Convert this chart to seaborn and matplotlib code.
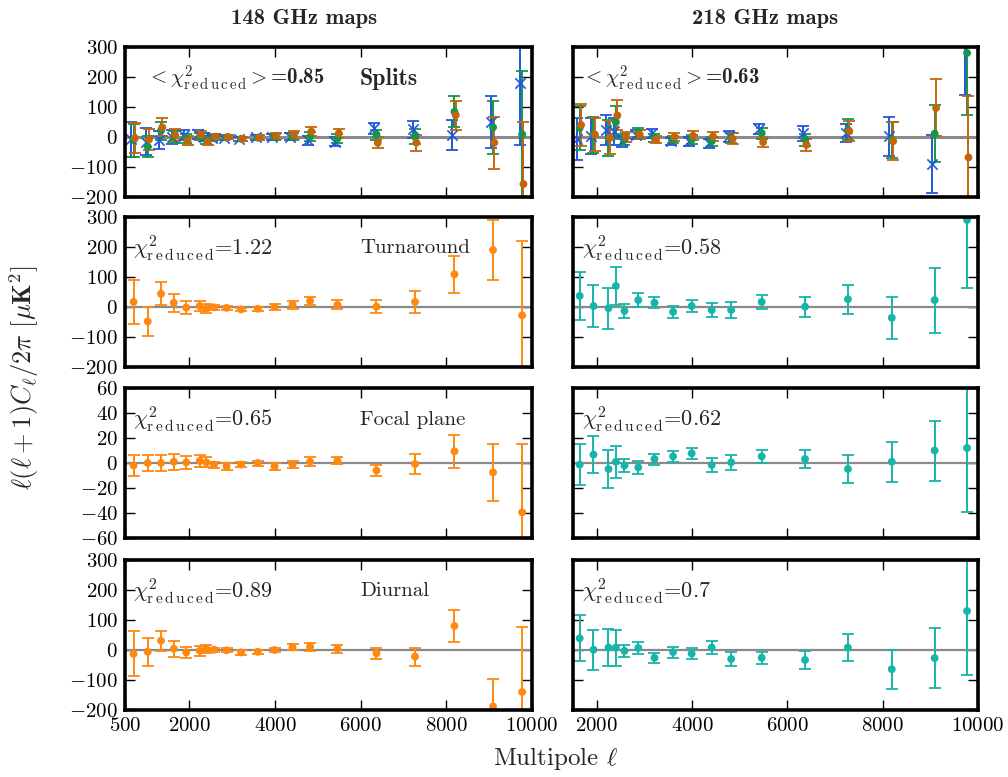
import numpy as np
import matplotlib
matplotlib.use("Agg")
import matplotlib.pyplot as plt
import seaborn as sns

# ---------------- data ----------------
ell_148 = [700, 1030, 1340, 1640, 1930, 2245, 2400, 2580, 2870, 3210,
           3600, 3990, 4410, 4820, 5460, 6370, 7270, 8190, 9090, 9770]
ell_218 = ell_148[3:]

test_names = ["Splits", "Turnaround", "Focal plane", "Diurnal"]
chi2_148 = ["0.85", "1.22", "0.65", "0.89"]
chi2_218 = ["0.63", "0.58", "0.62", "0.7"]

# Splits, 148 GHz (three split pairs)
s148_blue = [-8, -15, -10, 0, 7, 9, 0, -4, -2, -6, -1, -1, 1, -10, -15, 29, 26, 7, 51, 179]
s148_blue_err = [58, 45, 30, 22, 18, 15, 12, 8, 7, 7, 8, 10, 12, 15, 15, 18, 28, 50, 87, 205]
s148_green = [-10, -32, 21, 1, -5, 1, -10, -1, -1, -6, -2, 1, 1, 1, -5, 7, 1, 84, 32, 9]
s148_green_err = [55, 35, 30, 20, 15, 12, 12, 8, 7, 7, 8, 10, 12, 15, 15, 18, 25, 52, 87, 210]
s148_brown = [-4, -8, 32, 7, -12, 7, -15, 1, -1, -6, -2, 4, 7, 18, 12, -19, -19, 73, -19, -157]
s148_brown_err = [50, 35, 30, 20, 15, 12, 12, 8, 7, 7, 8, 10, 12, 16, 15, 18, 27, 48, 87, 208]

# Splits, 218 GHz
s218_blue = [-5, 2, 24, 20, -14, 8, 13, -14, -14, -20, 2, 27, 13, 13, 2, -89, 340]
s218_blue_err = [70, 60, 50, 45, 18, 16, 15, 12, 15, 15, 18, 18, 25, 30, 65, 97, 200]
s218_green = [30, 8, -3, 50, -9, 16, -3, -9, -9, -14, -3, 13, -9, 24, -9, 11, 280]
s218_green_err = [72, 60, 60, 55, 18, 15, 12, 12, 15, 15, 17, 18, 20, 35, 60, 95, 206]
s218_brown = [40, 8, -3, 72, 0, 8, -9, 0, 4, 2, -6, -17, -26, 19, -14, 97, -68]
s218_brown_err = [70, 55, 55, 50, 18, 15, 12, 13, 15, 15, 18, 17, 20, 33, 63, 95, 204]

# Turnaround
turn_148 = [17, -48, 44, 14, -2, 3, -6, -1, -3, -8, -6, 0, 8, 20, 7, 1, 17, 109, 190, -28]
turn_148_err = [72, 48, 38, 29, 21, 17, 15, 8, 6, 6, 7, 10, 13, 14, 15, 22, 37, 61, 100, 248]
turn_218 = [37, 3, -4, 70, -13, 23, 14, -16, 3, -10, -10, 17, 1, 26, -36, 23, 290]
turn_218_err = [81, 71, 69, 64, 24, 23, 18, 19, 20, 23, 26, 23, 33, 48, 70, 108, 225]

# Focal plane
focal_148 = [-2, 0, 0, 1, 0.5, 1.6, 0.5, -1.3, -2.7, -1.3, 0, -2.7, -1.3, 1, 2, -6, -0.8, 9.3, -7.5, -39.5]
focal_148_err = [8.5, 6.5, 6.5, 6.5, 5.5, 5, 4, 2.5, 2.5, 2, 2, 2.5, 3, 3.5, 3, 4.5, 8, 13.3, 23, 55]
focal_218 = [-1.3, 6.7, -4.8, 1, -2, -3.5, 3.2, 5.3, 7.7, -1.6, 0.5, 5.3, 3.2, -4.8, 1, 10, 12]
focal_218_err = [16.5, 15, 15.3, 13, 5.3, 5.3, 4.4, 4.7, 4.7, 5.3, 6.3, 5.3, 7.5, 11, 16, 24, 51]

# Diurnal
diurnal_148 = [-13, -6, 31, 4, -8, -2, 4, 1, -1, -8, -6, 0, 9, 11, 4, -11, -22, 80, -188, -140]
diurnal_148_err = [75, 46, 33, 27, 19, 17, 13, 7, 7, 7, 7, 8, 10, 13, 13, 18, 30, 53, 93, 216]
diurnal_218 = [39, 1, 8, 8, -3, 7, -26, -7, -12, 8, -30, -26, -33, 8, -64, -27, 130]
diurnal_218_err = [77, 66, 61, 60, 20, 20, 17, 18, 19, 21, 24, 21, 31, 45, 65, 101, 213]

split_offsets = [-50, 0, 30]
y_ticks_big = [-200, -100, 0, 100, 200, 300]
y_ticks_small = [-60, -40, -20, 0, 20, 40, 60]
x_ticks_148 = [500, 2000, 4000, 6000, 8000, 10000]
x_ticks_218 = [2000, 4000, 6000, 8000, 10000]

# ---------------- style ----------------
sns.set_theme(style="ticks")
plt.rcParams["font.family"] = ["cmr10", "DejaVu Serif"]
plt.rcParams["mathtext.fontset"] = "cm"
plt.rcParams["axes.formatter.use_mathtext"] = True
plt.rcParams["axes.unicode_minus"] = True

C_BLUE = "#2357dc"
C_GREEN = "#13974c"
C_BROWN = "#c4650c"
C_ORANGE = "#ff8811"
C_TEAL = "#17b4aa"
BOLD = ["cmb10", "DejaVu Serif"]

fig = plt.figure(figsize=(10.08, 7.77), dpi=100)
W, H = 1008.0, 777.0
tops = [47, 217, 388, 560]
ph = 150
col_left = [(125, 407), (573, 405)]

CHI = r"\chi^2_{\rm r\,e\,d\,u\,c\,e\,d}"

def make_ax(col, row):
    l, w = col_left[col]
    t = tops[row]
    return fig.add_axes([l / W, 1 - (t + ph) / H, w / W, ph / H])

def style_ax(ax, col, row):
    for s in ax.spines.values():
        s.set_linewidth(2.6)
        s.set_color("black")
        s.set_zorder(10)
    ax.tick_params(direction="in", length=7, width=1.0, top=True, right=True,
                   labelsize=15, pad=5, colors="black")
    if col == 0:
        ax.set_xlim(500, 10000)
        ax.set_xticks(x_ticks_148)
    else:
        ax.set_xlim(1500, 10000)
        ax.set_xticks(x_ticks_218)
        ax.tick_params(labelleft=False)
    if row == 2:
        ax.set_ylim(-60, 60)
        ax.set_yticks(y_ticks_small)
    else:
        ax.set_ylim(-200, 300)
        ax.set_yticks(y_ticks_big)
    if row != 3:
        ax.tick_params(labelbottom=False)
    ax.set_xlabel("")
    ax.set_ylabel("")

def draw_series(ax, x, y, err, color, marker="o"):
    ax.errorbar(x, y, yerr=err, fmt="none", ecolor=color, elinewidth=1.4,
                capsize=4.5, capthick=1.3, zorder=3, clip_on=True)
    if marker == "x":
        sns.scatterplot(x=x, y=y, ax=ax, color=color, marker="x", s=55,
                        linewidth=1.2, zorder=4, legend=False)
    else:
        sns.scatterplot(x=x, y=y, ax=ax, color=color, marker="o", s=32,
                        edgecolor="none", zorder=4, legend=False)

split_148 = [(s148_blue, s148_blue_err, C_BLUE, "x"),
             (s148_green, s148_green_err, C_GREEN, "o"),
             (s148_brown, s148_brown_err, C_BROWN, "o")]
split_218 = [(s218_blue, s218_blue_err, C_BLUE, "x"),
             (s218_green, s218_green_err, C_GREEN, "o"),
             (s218_brown, s218_brown_err, C_BROWN, "o")]
single_148 = [(turn_148, turn_148_err), (focal_148, focal_148_err), (diurnal_148, diurnal_148_err)]
single_218 = [(turn_218, turn_218_err), (focal_218, focal_218_err), (diurnal_218, diurnal_218_err)]

for row in range(4):
    for col in range(2):
        ax = make_ax(col, row)
        ells = np.array(ell_148 if col == 0 else ell_218, dtype=float)
        ax.axhline(0, color="#8a8a8a", lw=2.2 if row == 0 else 1.6, zorder=2)
        if row == 0:
            series = split_148 if col == 0 else split_218
            for (vals, errs, c, m), off in zip(series, split_offsets):
                draw_series(ax, ells + off, vals, errs, c, m)
        else:
            vals, errs = (single_148 if col == 0 else single_218)[row - 1]
            draw_series(ax, ells, vals, errs, C_ORANGE if col == 0 else C_TEAL)
        style_ax(ax, col, row)

        chi = chi2_148[row] if col == 0 else chi2_218[row]
        if row == 0:
            tx = 0.055 if col == 0 else 0.022
            ax.text(tx, 0.79, r"$<" + CHI + r">$" + "=" + chi,
                    transform=ax.transAxes, fontsize=15, va="center", ha="left",
                    family=BOLD)
        else:
            tx = 0.02 if col == 0 else 0.022
            ax.text(tx, 0.79, r"$" + CHI + r"$" + "=" + chi,
                    transform=ax.transAxes, fontsize=16, va="center", ha="left")
        if col == 0:
            ax.text(0.577, 0.79, test_names[row], transform=ax.transAxes,
                    fontsize=17 if row == 0 else 15, va="center", ha="left",
                    family=BOLD if row == 0 else ["cmr10", "DejaVu Serif"])

fig.text(304 / W, 1 - 18 / H, "148 GHz maps", ha="center", va="center",
         fontsize=16.3, family=BOLD)
fig.text(765 / W, 1 - 18 / H, "218 GHz maps", ha="center", va="center",
         fontsize=16.3, family=BOLD)
fig.text(555 / W, 1 - 758 / H, r"Multipole $\ell$", ha="center", va="center", fontsize=18)
fig.text(24 / W, 1 - 378 / H, r"$\ell(\ell+1)C_\ell/2\pi\ [\mu\mathbf{K}^2]$",
         rotation=90, ha="center", va="center", fontsize=19)

fig.savefig("out.png", dpi=100)
